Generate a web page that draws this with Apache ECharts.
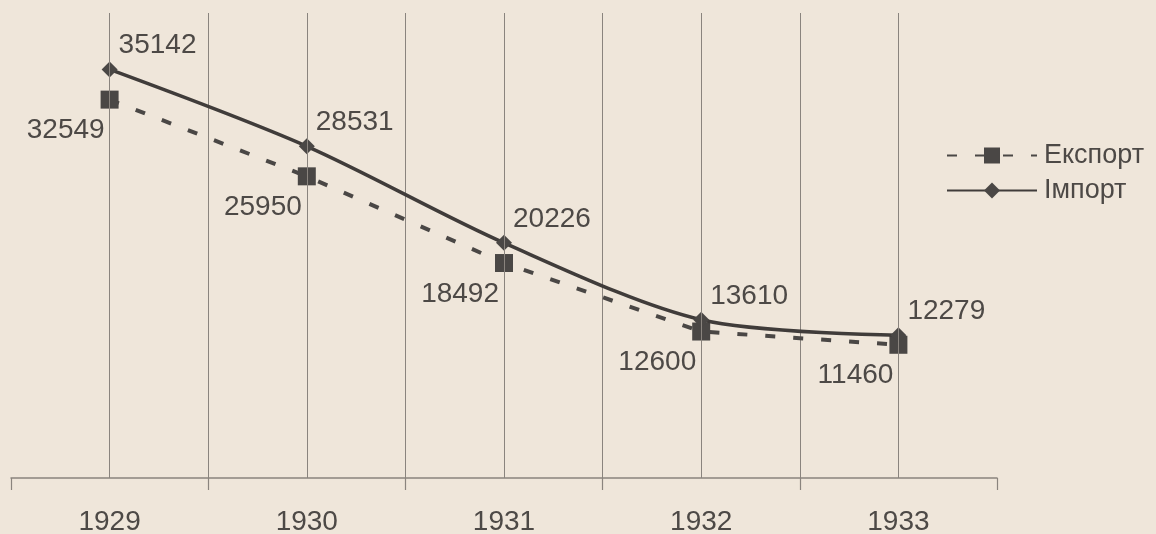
<!DOCTYPE html>
<html>
<head>
<meta charset="utf-8">
<script src="https://cdn.jsdelivr.net/npm/echarts@6/dist/echarts.min.js"></script>
<style>
html,body{margin:0;padding:0;background:#efe6da;}
#chart{width:1156px;height:534px;}
</style>
</head>
<body>
<div id="chart"></div>
<script>
const years = ['1929', '1930', '1931', '1932', '1933'];
const exportValues = [32549, 25950, 18492, 12600, 11460];
const importValues = [35142, 28531, 20226, 13610, 12279];
const seriesNames = ['Експорт', 'Імпорт'];

const textColor = '#4d4946';
const lineColor = '#403c3a';
const gridColor = '#8a847e';
const fontFamily = 'Liberation Sans, Arial, sans-serif';

const chart = echarts.init(document.getElementById('chart'));
chart.setOption({
  backgroundColor: '#efe6da',
  animation: false,
  grid: { left: 11, right: 159, top: 13, bottom: 56, containLabel: false, outerBoundsMode: 'none' },
  legend: {
    orient: 'vertical',
    left: 941,
    top: 137,
    itemWidth: 90,
    itemHeight: 20,
    itemGap: 8,
    textStyle: { fontSize: 27, color: textColor, fontFamily: fontFamily, padding: [0, 0, 0, 2] },
    data: seriesNames
  },
  xAxis: {
    type: 'category',
    data: years,
    boundaryGap: true,
    axisLine: { lineStyle: { color: gridColor, width: 1.5 } },
    axisTick: { show: true, length: 12, lineStyle: { color: gridColor, width: 1.2 } },
    axisLabel: { fontSize: 28, color: textColor, fontFamily: fontFamily, margin: 30 },
    splitLine: { show: true, showMinLine: false, showMaxLine: false, lineStyle: { color: gridColor, width: 1 } }
  },
  yAxis: {
    type: 'value',
    min: 0,
    max: 40000,
    show: false,
    splitLine: { show: false }
  },
  series: [
    {
      name: seriesNames[0],
      type: 'line',
      data: exportValues,
      symbol: 'rect',
      symbolSize: 18,
      z: 3,
      itemStyle: { color: '#4a4745' },
      lineStyle: { color: '#4a4745', width: 4, type: [10, 18] },
      label: {
        show: true,
        position: 'inside',
        align: 'right',
        verticalAlign: 'top',
        offset: [-5, 17],
        fontSize: 28,
        color: textColor,
        fontFamily: fontFamily
      },
      markLine: {
        silent: true,
        symbol: 'none',
        label: { show: false },
        lineStyle: { color: gridColor, width: 1, type: 'solid' },
        data: years.map(y => ({ xAxis: y }))
      }
    },
    {
      name: seriesNames[1],
      type: 'line',
      data: importValues,
      symbol: 'diamond',
      symbolSize: 16,
      smooth: 0.3,
      z: 4,
      itemStyle: { color: '#4a4745' },
      lineStyle: { color: lineColor, width: 3.5 },
      label: {
        show: true,
        position: 'inside',
        align: 'left',
        verticalAlign: 'bottom',
        offset: [9, -10],
        fontSize: 28,
        color: textColor,
        fontFamily: fontFamily
      }
    }
  ]
});
</script>
</body>
</html>
